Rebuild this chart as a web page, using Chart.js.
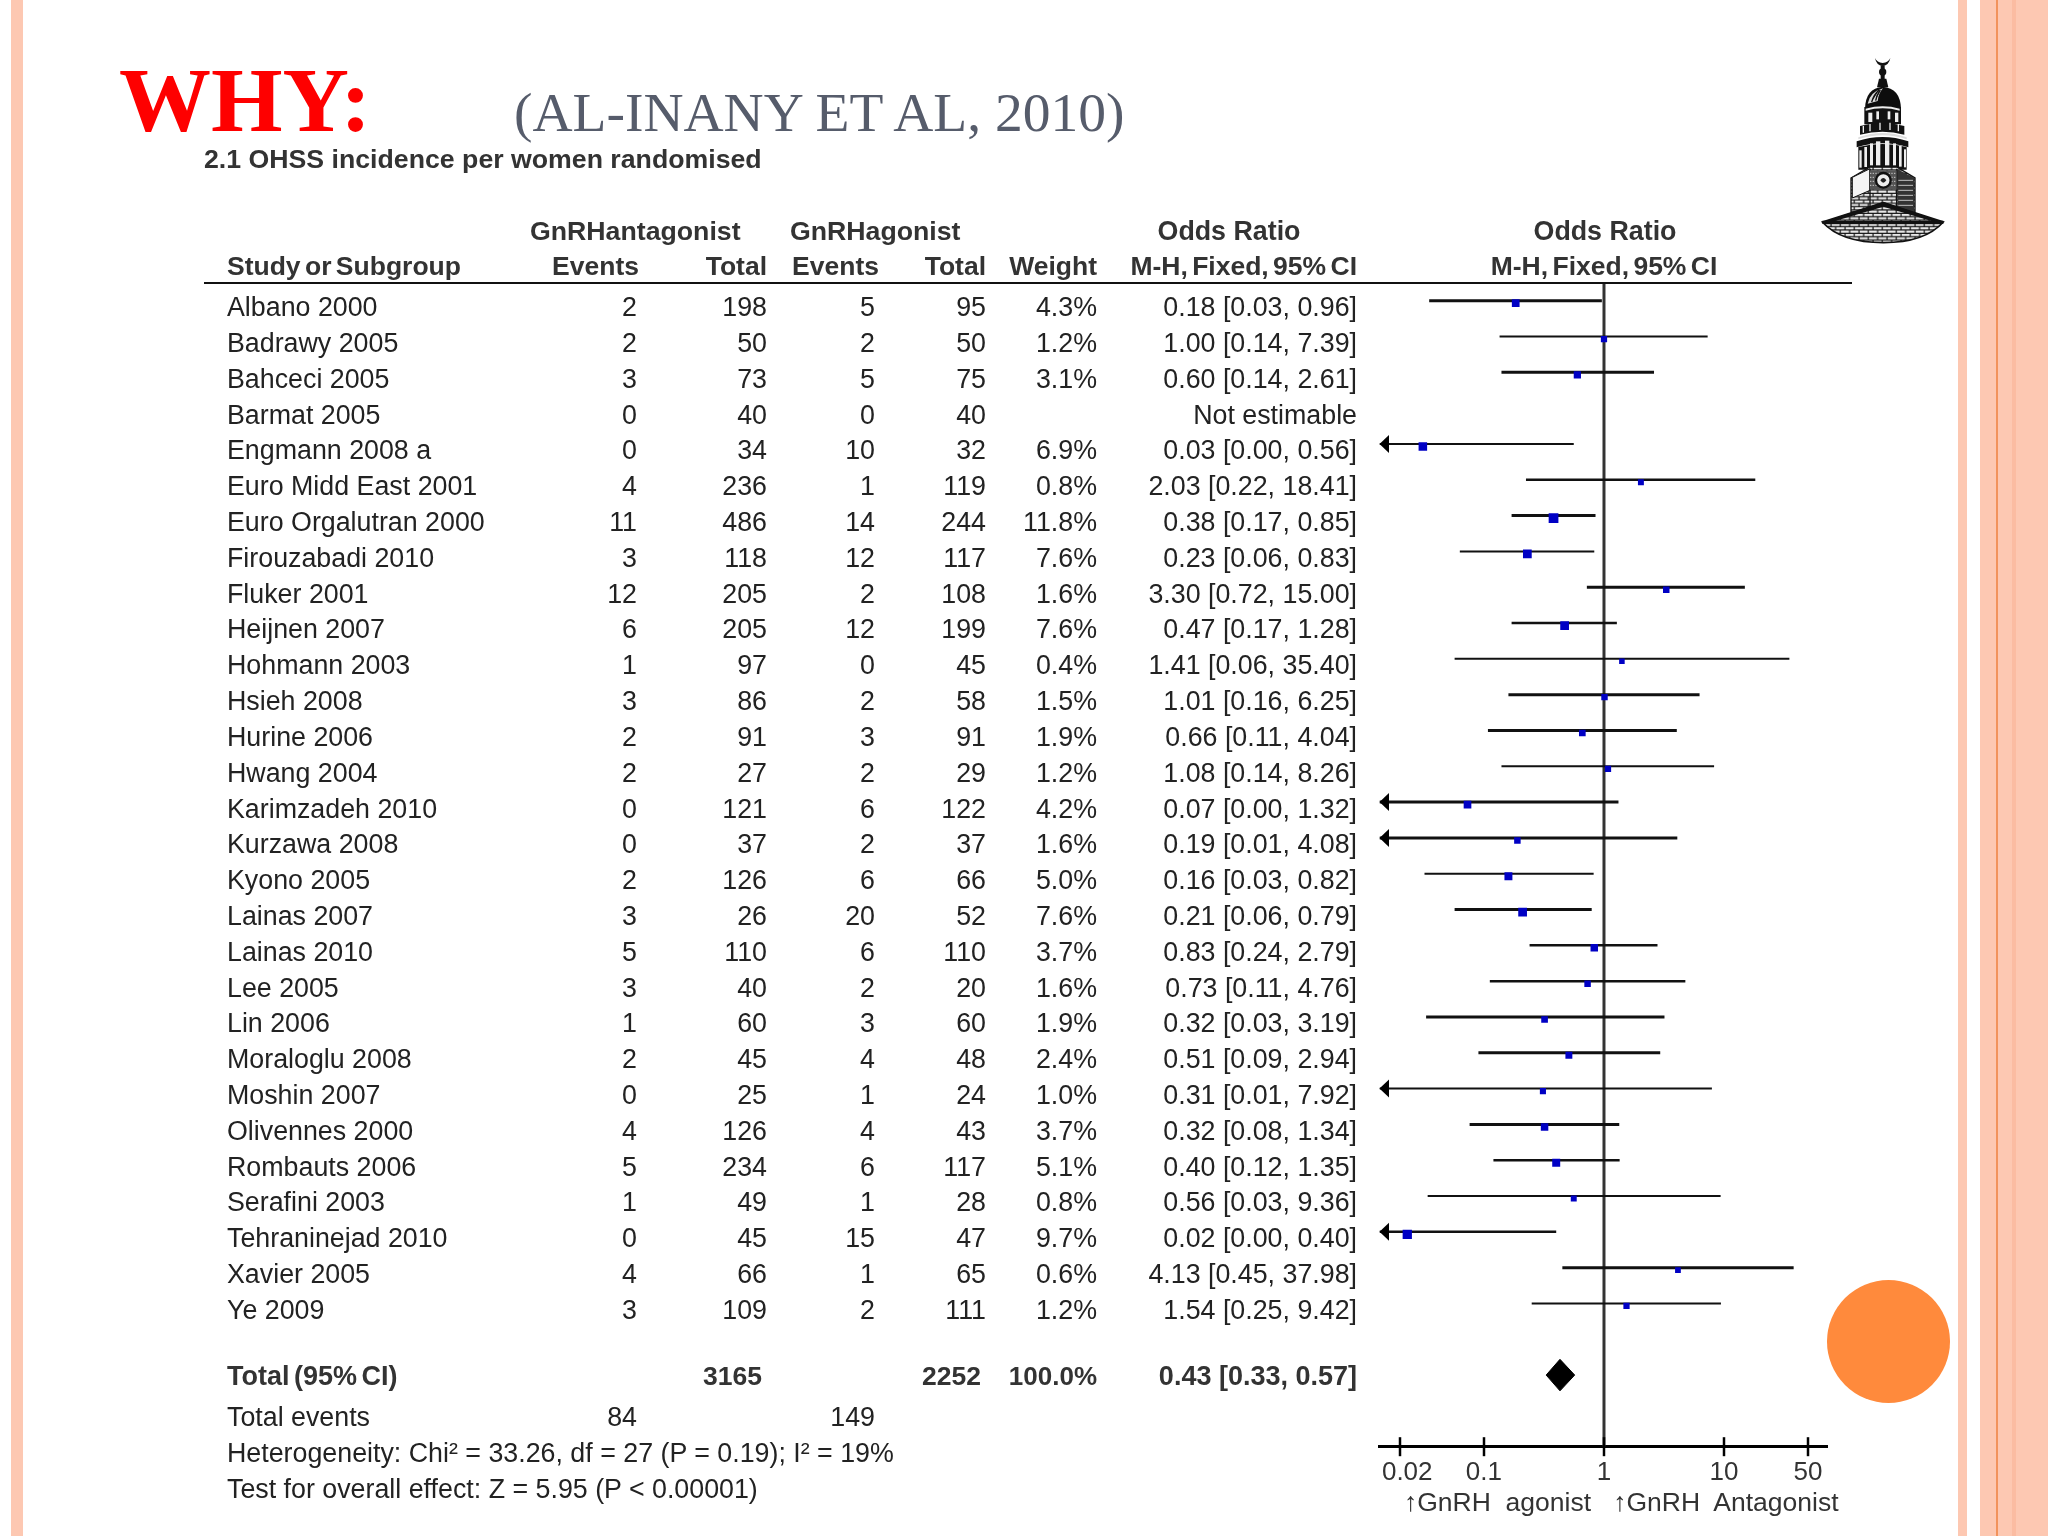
<!DOCTYPE html>
<html>
<head>
<meta charset="utf-8">
<title>OHSS incidence forest plot</title>
<script src="https://cdn.jsdelivr.net/npm/chart.js@4"></script>
<style>
html, body { margin: 0; padding: 0; background: #fff; }
#page { position: relative; width: 2048px; height: 1536px; overflow: hidden; background: #fff; font-family: "Liberation Sans", Arial, sans-serif; }
.band { position: absolute; top: 0; height: 1536px; }
#plot { position: absolute; left: 0; top: 0; }
.t { position: absolute; white-space: pre; line-height: 1; font-size: 26.8px; color: #222; }
.b { font-weight: bold; font-size: 26.5px; color: #333; word-spacing: -3px; }
.disc { position: absolute; left: 1827px; top: 1280px; width: 123px; height: 123px; border-radius: 50%; background: #ff8a3c; }
#tower { position: absolute; left: 1815px; top: 52px; }
</style>
</head>
<body>
<div id="page">
  <div class="band" style="left:11px;width:12px;background:#fdc8b2"></div>
  <div class="band" style="left:1958px;width:9px;background:#fdc8b2"></div>
  <div class="band" style="left:1980px;width:68px;background:#fdc8b2"></div>
  <div class="band" style="left:1996px;width:2px;background:#f2935c"></div>
  <div class="band" style="left:2012px;width:4px;background:#fbbca2"></div>
  <div class="disc"></div>

  <svg id="tower" width="140" height="196" viewBox="0 0 420 588">
    <defs>
      <pattern id="brick" width="28" height="20" patternUnits="userSpaceOnUse">
        <rect width="28" height="20" fill="#e8e8e8"/>
        <path d="M0 4h28M0 14h28M6 4v10M20 14v6M20 0v4" stroke="#111" stroke-width="3.5" fill="none"/>
      </pattern>
    </defs>
    <path d="M180 18 q4 22 23 24 q19 -2 23 -24 q-6 14 -23 15 q-17 -1 -23 -15z" fill="#111"/>
    <rect x="197" y="40" width="12" height="48" fill="#111"/>
    <circle cx="203" cy="60" r="11" fill="#111"/>
    <path d="M192 80 h22 l6 26 h-34z" fill="#111"/>
    <path d="M150 170 q2 -62 53 -66 q53 4 55 66z" fill="#0d0d0d"/>
    <path d="M158 155 q6 -34 46 -46 q-14 16 -16 38z" fill="#d8d8d8"/>
    <g stroke="#111" stroke-width="4"><path d="M170 150 q6 -22 22 -36M182 146 q2 -16 14 -32"/></g>
    <rect x="148" y="165" width="110" height="52" fill="#111"/>
    <path d="M152 170 q51 -14 102 0 v6 q-51 -14 -102 0z" fill="#eee"/>
    <g fill="#eee"><rect x="160" y="182" width="12" height="28"/><rect x="184" y="178" width="8" height="24"/><rect x="218" y="178" width="8" height="24"/><rect x="240" y="182" width="10" height="28"/></g>
    <path d="M135 222 q68 -18 133 0 v26 q-65 -18 -133 0z" fill="#111"/>
    <g stroke="#eee" stroke-width="4"><path d="M145 222v20M165 216v22M195 212v22M225 212v22M250 216v22"/></g>
    <path d="M125 268 q78 -26 155 0 v18 q-77 -24 -155 0z" fill="#111"/>
    <path d="M130 256 q73 -26 145 0 v6 q-72 -24 -145 0z" fill="#ddd"/>
    <path d="M130 285 q73 -18 145 0 v68 h-145z" fill="#111"/>
    <g fill="#eee"><rect x="133" y="295" width="7" height="52"/><rect x="148" y="285" width="8" height="60"/><rect x="165" y="274" width="9" height="66"/><rect x="183" y="268" width="13" height="72"/><rect x="210" y="266" width="13" height="74"/><rect x="234" y="274" width="9" height="66"/><rect x="252" y="282" width="8" height="62"/><rect x="267" y="292" width="6" height="54"/></g>
    <path d="M108 378 L165 345 H245 L300 378 V480 H108z" fill="url(#brick)" stroke="#111" stroke-width="4"/>
    <path d="M108 378 L165 350 V415 L112 438 V378z" fill="#f4f4f4" stroke="#111" stroke-width="3"/>
    <path d="M245 350 L298 378 V480 H248z" fill="#333"/>
    <g stroke="#ddd" stroke-width="2.5"><path d="M250 385h44M250 400h44M250 415h44M250 430h44M250 445h44M250 460h44"/></g>
    <path d="M165 350 V480 M245 350 V480" stroke="#111" stroke-width="4"/>
    <rect x="165" y="355" width="80" height="58" fill="#555"/>
    <g stroke="#ccc" stroke-width="3" stroke-dasharray="4 4"><path d="M165 364h80M165 376h80M165 388h80M165 400h80"/></g>
    <circle cx="205" cy="385" r="22" fill="#eee" stroke="#111" stroke-width="7"/>
    <path d="M196 385 q9 -14 18 0 q-9 14 -18 0z" fill="#222"/>
    <path d="M22 510 L205 452 L385 510 Q330 572 205 572 Q78 572 22 510z" fill="url(#brick)" stroke="#111" stroke-width="5"/>
    <path d="M22 510 L205 450 L385 510 L360 510 L205 464 L50 510z" fill="#111"/>
    <path d="M22 506 H385 V516 H22z" fill="#111"/>
  </svg>

  <canvas id="plot" width="2048" height="1536"></canvas>
</div>

<script>
// study table
const studies = ['Albano 2000', 'Badrawy 2005', 'Bahceci 2005', 'Barmat 2005', 'Engmann 2008 a', 'Euro Midd East 2001', 'Euro Orgalutran 2000', 'Firouzabadi 2010', 'Fluker 2001', 'Heijnen 2007', 'Hohmann 2003', 'Hsieh 2008', 'Hurine 2006', 'Hwang 2004', 'Karimzadeh 2010', 'Kurzawa 2008', 'Kyono 2005', 'Lainas 2007', 'Lainas 2010', 'Lee 2005', 'Lin 2006', 'Moraloglu 2008', 'Moshin 2007', 'Olivennes 2000', 'Rombauts 2006', 'Serafini 2003', 'Tehraninejad 2010', 'Xavier 2005', 'Ye 2009'];
const antagonistEvents = [2, 2, 3, 0, 0, 4, 11, 3, 12, 6, 1, 3, 2, 2, 0, 0, 2, 3, 5, 3, 1, 2, 0, 4, 5, 1, 0, 4, 3];
const antagonistTotal = [198, 50, 73, 40, 34, 236, 486, 118, 205, 205, 97, 86, 91, 27, 121, 37, 126, 26, 110, 40, 60, 45, 25, 126, 234, 49, 45, 66, 109];
const agonistEvents = [5, 2, 5, 0, 10, 1, 14, 12, 2, 12, 0, 2, 3, 2, 6, 2, 6, 20, 6, 2, 3, 4, 1, 4, 6, 1, 15, 1, 2];
const agonistTotal = [95, 50, 75, 40, 32, 119, 244, 117, 108, 199, 45, 58, 91, 29, 122, 37, 66, 52, 110, 20, 60, 48, 24, 43, 117, 28, 47, 65, 111];
const weights = [4.3, 1.2, 3.1, null, 6.9, 0.8, 11.8, 7.6, 1.6, 7.6, 0.4, 1.5, 1.9, 1.2, 4.2, 1.6, 5.0, 7.6, 3.7, 1.6, 1.9, 2.4, 1.0, 3.7, 5.1, 0.8, 9.7, 0.6, 1.2];
const orLabels = ['0.18 [0.03, 0.96]', '1.00 [0.14, 7.39]', '0.60 [0.14, 2.61]', 'Not estimable', '0.03 [0.00, 0.56]', '2.03 [0.22, 18.41]', '0.38 [0.17, 0.85]', '0.23 [0.06, 0.83]', '3.30 [0.72, 15.00]', '0.47 [0.17, 1.28]', '1.41 [0.06, 35.40]', '1.01 [0.16, 6.25]', '0.66 [0.11, 4.04]', '1.08 [0.14, 8.26]', '0.07 [0.00, 1.32]', '0.19 [0.01, 4.08]', '0.16 [0.03, 0.82]', '0.21 [0.06, 0.79]', '0.83 [0.24, 2.79]', '0.73 [0.11, 4.76]', '0.32 [0.03, 3.19]', '0.51 [0.09, 2.94]', '0.31 [0.01, 7.92]', '0.32 [0.08, 1.34]', '0.40 [0.12, 1.35]', '0.56 [0.03, 9.36]', '0.02 [0.00, 0.40]', '4.13 [0.45, 37.98]', '1.54 [0.25, 9.42]'];

// what the plot shows
const orValues = [0.184, 1.00, 0.60, null, 0.031, 2.03, 0.38, 0.23, 3.30, 0.47, 1.41, 1.01, 0.66, 1.08, 0.073, 0.19, 0.16, 0.21, 0.83, 0.73, 0.32, 0.51, 0.31, 0.32, 0.40, 0.56, 0.023, 4.13, 1.54];
const ciLow = [0.035, 0.135, 0.14, null, 0, 0.224, 0.17, 0.063, 0.72, 0.17, 0.057, 0.16, 0.108, 0.14, 0, 0.01, 0.032, 0.057, 0.24, 0.112, 0.033, 0.09, 0.01, 0.076, 0.12, 0.034, 0, 0.45, 0.25];
const ciHigh = [0.96, 7.3, 2.61, null, 0.56, 18.2, 0.85, 0.83, 14.9, 1.28, 35.0, 6.25, 4.04, 8.26, 1.32, 4.08, 0.82, 0.79, 2.79, 4.76, 3.19, 2.94, 7.92, 1.34, 1.35, 9.36, 0.40, 37.98, 9.42];

const totalRow = { name: 'Total (95% CI)', totalA: 3165, totalB: 2252, weight: '100.0%', label: '0.43 [0.33, 0.57]' };
const pooled = [0.33, 0.43, 0.57];
const totalEvents = [84, 149];
const footnotes = ['Heterogeneity: Chi² = 33.26, df = 27 (P = 0.19); I² = 19%', 'Test for overall effect: Z = 5.95 (P < 0.00001)'];

const tickValues = [0.02, 0.1, 1, 10, 50];
const tickLabels = ['0.02', '0.1', '1', '10', '50'];

// plot range, the log axis runs a little past the ticks
const xMin = 0.0135, xMax = 72;
const rowMin = -0.5, rowMax = 32;
const totalIndex = 30;

// row line widths vary in the scan
const ciWidths = [3, 2, 3, 0, 2, 2.5, 3, 2, 3, 2.5, 2, 3, 3, 2, 3, 3, 2, 3, 2.5, 2.5, 3, 3, 2, 3, 2.5, 2, 2.5, 3, 2];

// text helpers
const page = document.querySelector('#page');
const rowStep = 35.81;
const rowY = i => 300.7 + rowStep * i;

function put(text, x, y, align, cls, extra) {
    const el = document.createElement('div');
    el.className = 't ' + (cls || '');
    el.textContent = text;
    el.style.left = x + 'px';
    el.style.top = y + 'px';
    const dx = align === 'right' ? '-100%' : align === 'center' ? '-50%' : '0';
    el.style.transform = 'translate(' + dx + ',-50%)';
    if (extra) Object.assign(el.style, extra);
    page.appendChild(el);
}

// title
put('WHY:', 119, 100, 'left', '', { fontFamily: '"Liberation Serif", serif', fontWeight: 'bold', fontSize: '92px', color: '#fe0000' });
put('(AL-INANY ET AL, 2010)', 514, 113, 'left', '', { fontFamily: '"Liberation Serif", serif', fontSize: '55.5px', color: '#565c6b' });
put('2.1 OHSS incidence per women randomised', 204, 159, 'left', 'b', { fontSize: '26.7px', wordSpacing: '0' });

// column headers
put('GnRHantagonist', 530, 231, 'left', 'b', { fontSize: '26.7px' });
put('GnRHagonist', 790, 231, 'left', 'b', { fontSize: '26.7px' });
put('Odds Ratio', 1229, 231, 'center', 'b', { wordSpacing: '0', fontSize: '26.8px' });
put('Odds Ratio', 1605, 231, 'center', 'b', { wordSpacing: '0', fontSize: '26.8px' });
put('Study or Subgroup', 227, 266, 'left', 'b');
put('Events', 639, 266, 'right', 'b');
put('Total', 767, 266, 'right', 'b');
put('Events', 879, 266, 'right', 'b');
put('Total', 986, 266, 'right', 'b');
put('Weight', 1097, 266, 'right', 'b');
put('M-H, Fixed, 95% CI', 1357, 266, 'right', 'b');
put('M-H, Fixed, 95% CI', 1604, 266, 'center', 'b');

// header rule
const rule = document.createElement('div');
rule.style.cssText = 'position:absolute;left:204px;top:281.5px;width:1648px;height:2.5px;background:#111';
page.appendChild(rule);

// study rows
studies.forEach((name, i) => {
    const y = rowY(i) + 6.5;
    put(name, 227, y);
    put(String(antagonistEvents[i]), 637, y, 'right');
    put(String(antagonistTotal[i]), 767, y, 'right');
    put(String(agonistEvents[i]), 875, y, 'right');
    put(String(agonistTotal[i]), 986, y, 'right');
    if (weights[i] !== null) put(weights[i].toFixed(1) + '%', 1097, y, 'right');
    put(orLabels[i], 1357, y, 'right');
});

// total and footer
put(totalRow.name, 227, 1376, 'left', 'b', { fontSize: '27px' });
put(String(totalRow.totalA), 762, 1376, 'right', 'b');
put(String(totalRow.totalB), 981, 1376, 'right', 'b');
put(totalRow.weight, 1097, 1376, 'right', 'b', { fontSize: '26px' });
put(totalRow.label, 1357, 1376, 'right', 'b', { fontSize: '27px', wordSpacing: '0' });
put('Total events', 227, 1417);
put(String(totalEvents[0]), 637, 1417, 'right');
put(String(totalEvents[1]), 875, 1417, 'right');
put(footnotes[0], 227, 1453);
put(footnotes[1], 227, 1489);
put('↑GnRH  agonist   ↑GnRH  Antagonist', 1404, 1502, 'left', '', { color: '#333', fontSize: '26.5px' });

// datasets
const ciSets = [];
studies.forEach((name, i) => {
    if (ciHigh[i] === null) return;
    ciSets.push({
        label: name,
        data: [{ x: Math.max(ciLow[i], xMin), y: i }, { x: ciHigh[i], y: i }],
        showLine: true,
        borderColor: '#111',
        borderWidth: ciWidths[i],
        pointRadius: 0
    });
});

const markerDrop = 0.07;
const markerPoints = [];
const markerWeights = [];
orValues.forEach((v, i) => {
    if (v === null) return;
    markerPoints.push({ x: v, y: i + markerDrop });
    markerWeights.push(weights[i]);
});

const chart = document.querySelector('#plot').getContext('2d');

// cut off CIs get an arrow at the left edge, ticks cross the axis
const forestExtras = {
    id: 'forestExtras',
    afterDatasetsDraw(c) {
        const g = c.ctx, xs = c.scales.x, ys = c.scales.y;
        g.save();
        g.fillStyle = '#000';
        ciLow.forEach((low, i) => {
            if (low === null || low >= xMin) return;
            const px = xs.left, py = ys.getPixelForValue(i);
            g.beginPath();
            g.moveTo(px, py);
            g.lineTo(px + 9.5, py - 9);
            g.lineTo(px + 9.5, py + 9);
            g.closePath();
            g.fill();
        });
        g.strokeStyle = '#000';
        g.lineWidth = 2.5;
        xs.ticks.forEach(t => {
            const px = Math.round(xs.getPixelForValue(t.value));
            g.beginPath();
            g.moveTo(px, xs.top - 9.5);
            g.lineTo(px, xs.top + 9.5);
            g.stroke();
        });
        g.restore();
    }
};

// first dataset ends up on top
new Chart(chart, {
    type: 'scatter',
    data: {
        datasets: [
            {
                label: 'Odds ratio',
                data: markerPoints,
                pointStyle: 'rect',
                backgroundColor: '#0000c4',
                borderWidth: 0,
                pointRadius: ctx => (4.6 + 1.5 * Math.sqrt(markerWeights[ctx.dataIndex] || 0)) / Math.SQRT2
            },
            {
                label: 'Pooled',
                data: [
                    { x: pooled[0], y: totalIndex },
                    { x: pooled[1], y: totalIndex - 0.44 },
                    { x: pooled[2], y: totalIndex },
                    { x: pooled[1], y: totalIndex + 0.44 },
                    { x: pooled[0], y: totalIndex }
                ],
                showLine: true,
                fill: 'shape',
                tension: 0,
                borderColor: '#000',
                borderWidth: 1,
                backgroundColor: '#000',
                pointRadius: 0
            },
            ...ciSets,
            {
                label: 'No effect',
                data: [{ x: 1, y: rowMin }, { x: 1, y: rowMax }],
                showLine: true,
                borderColor: '#333',
                borderWidth: 3,
                pointRadius: 0
            }
        ]
    },
    options: {
        responsive: false,
        animation: false,
        events: [],
        layout: { padding: { left: 1379.5, right: 221, top: 282.8, bottom: 39.3 } },
        plugins: { legend: { display: false }, tooltip: { enabled: false }, title: { display: false } },
        scales: {
            x: {
                type: 'logarithmic',
                min: xMin,
                max: xMax,
                afterBuildTicks(s) { s.ticks = tickValues.map(v => ({ value: v })); },
                afterFit(s) { s.height = 50; s.paddingLeft = 0; s.paddingRight = 0; },
                grid: { display: false },
                border: { display: true, color: '#000', width: 3 },
                ticks: {
                    autoSkip: false,
                    maxRotation: 0,
                    padding: 3,
                    color: '#333',
                    font: { family: '"Liberation Sans"', size: 26 },
                    // the 0.02 label sits right of its tick in the original
                    callback: (v, i) => (i === 0 ? '\u00a0\u00a0' : '') + tickLabels[i]
                }
            },
            y: {
                display: false,
                reverse: true,
                min: rowMin,
                max: rowMax
            }
        }
    },
    plugins: [forestExtras]
});
</script>
</body>
</html>
